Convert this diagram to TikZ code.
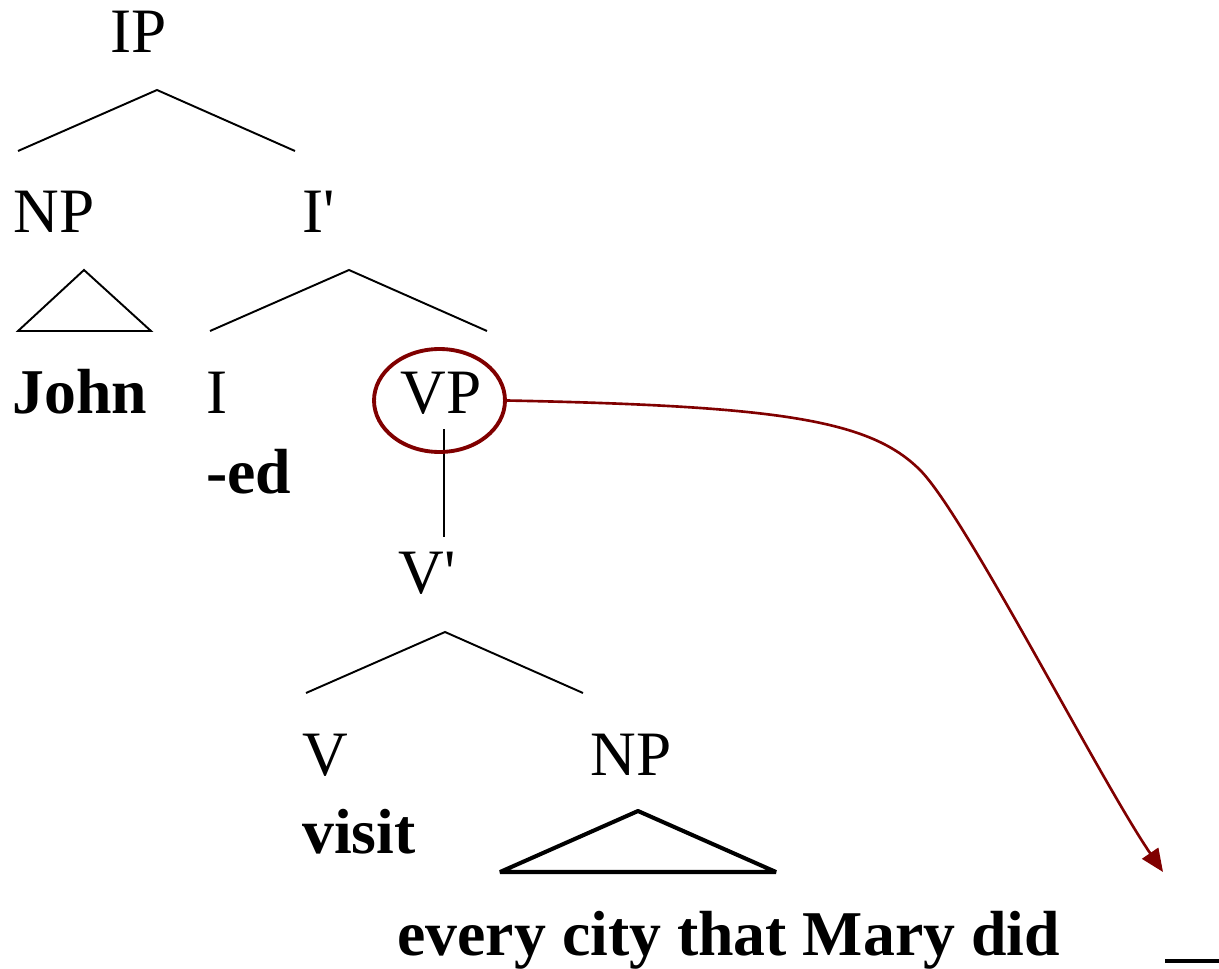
\documentclass[tikz,border=0pt]{standalone}
\usepackage{fontspec}
\setmainfont{Liberation Serif}
\usetikzlibrary{arrows.meta, shapes.geometric}
\definecolor{vpred}{RGB}{128,0,0}

\begin{document}
\begin{tikzpicture}[x=0.02cm, y=-0.02cm, >={Triangle[length=13pt,width=11pt]},
    cat/.style={font=\fontsize{36}{43}\selectfont, inner sep=0pt, anchor=base west},
    word/.style={cat, font=\fontsize{36.3}{43}\selectfont\bfseries},
    branch/.style={line width=1.1pt},
    roof/.style={line width=1.1pt, line join=miter},
    fork/.pic={\draw[branch] (-139,61) -- (0,0) -- (138,61);}]

  \useasboundingbox (0,0) rectangle (1219,969);

  % categories and words
  \node[cat]  (ip)     at (110,53)  {IP};
  \node[cat]  (np)     at (13,233)  {NP};
  \node[cat]  (ibar)   at (302,233) {I\textquotesingle};
  \node[word] (john)   at (12,413)  {John};
  \node[cat]  (i)      at (206,413) {I};
  \node[word] (ed)     at (206,493) {-ed};
  \node[cat]  (vp)     at (400,413) {VP};
  \node[cat]  (vbar)   at (398,593) {V\textquotesingle};
  \node[cat]  (v)      at (302,775) {V};
  \node[word] (visit)  at (302,853) {visit};
  \node[cat]  (np2)    at (590,775) {NP};
  \node[word] (cities) at (397,955) {every city that Mary did};

  % branches
  \pic (ipfork)   at (157,90)  {fork};
  \pic (ibarfork) at (349,270) {fork};
  \pic (vbarfork) at (445,632) {fork};
  \coordinate (vpfoot) at (444,429);
  \coordinate (vbartop) at (444,537);
  \draw[branch] (vpfoot) -- (vbartop);

  % roofs
  \coordinate (johnroof) at (84,270);
  \draw[roof] (johnroof) -- ++(-66,61) -- ++(133,0) -- cycle;
  \coordinate (cityroof) at (638,811);
  \draw[roof, line width=2.3pt, line join=bevel] (cityroof) -- ++(-138,61) -- ++(276,0) -- cycle;

  % gap
  \coordinate (gapl) at (1165,961);
  \coordinate (gapr) at (1219,961);
  \draw[line width=2.2pt] (gapl) -- (gapr);

  % movement
  \node[ellipse, draw=vpred, line width=2.2pt, inner sep=0pt,
        minimum width=2.62cm, minimum height=2.06cm] (vpring) at (439.5,400.5) {};
  \coordinate (tip) at (1163,872);
  \draw[->, vpred, line width=1.5pt] (vpring.east)
    .. controls (780,406) and (870,420) .. (920,470)
    .. controls (965,515) and (1100,780) .. (tip);
\end{tikzpicture}
\end{document}
